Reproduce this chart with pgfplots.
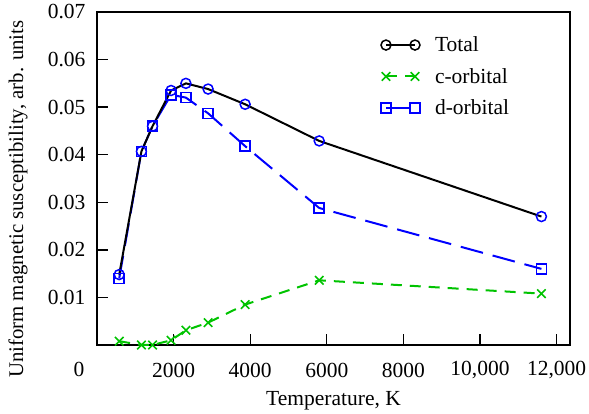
\documentclass[border=0pt]{standalone}
\usepackage{pgfplots}
\pgfplotsset{compat=1.18}
\usepackage{fontspec}
\setmainfont{Liberation Serif}
\definecolor{cgreen}{RGB}{0,195,0}
\begin{document}
\begin{tikzpicture}
\begin{axis}[
  name=ax,
  scale only axis,
  width=473pt, height=333pt,
  xmin=0, xmax=12350, ymin=0, ymax=0.07,
  font=\fontsize{21.5}{25}\selectfont,
  scaled ticks=false,
  /pgf/number format/assume math mode=true,
  xtick={2000,4000,6000,8000,10000,12000},
  xticklabels={2000,4000,6000,8000,{10,000},{12,000}},
  ytick={0.01,0.02,0.03,0.04,0.05,0.06,0.07},
  yticklabels={0.01,0.02,0.03,0.04,0.05,0.06,0.07},
  tick align=inside,
  xtick pos=bottom, ytick pos=left,
  major tick length=11pt,
  axis line style={line width=1.3pt},
  every tick/.style={black, line width=1.3pt},
  xticklabel style={anchor=center, yshift=-25pt},
  yticklabel style={anchor=east, xshift=-8pt},
  xlabel={Temperature, K},
  ylabel={Uniform magnetic susceptibility, arb. units},
  every axis x label/.style={at={([yshift=-56pt]axis description cs:0.5,0)}, anchor=center},
  every axis y label/.style={at={([xshift=-79pt]axis description cs:0,0.438)}, anchor=center, rotate=90, font=\fontsize{20.8}{25}\selectfont},
  legend style={draw=none, fill=none, at={(0.6,0.932)}, anchor=north west,
    font=\fontsize{21.5}{25}\selectfont, row sep=11pt, inner sep=0pt},
  legend cell align=left,
  legend image code/.code={
    \draw plot coordinates {(0pt,0pt) (29pt,0pt)};},
  clip=false,
]
\addlegendimage{black, line width=2pt, mark=o, mark size=5pt, mark options={solid, fill=white, line width=1.5pt}}
\addlegendentry{\hspace{13pt}Total}
\addlegendimage{cgreen, line width=2pt, dash pattern=on 11pt off 8pt, mark=x, mark size=6pt, mark options={solid, line width=1.6pt}}
\addlegendentry{\hspace{13pt}c-orbital}
\addlegendimage{blue, line width=2pt, dash pattern=on 23pt off 10pt, mark=square, mark size=5pt, mark options={solid, fill=white, line width=1.5pt}}
\addlegendentry{\hspace{13pt}d-orbital}

\addplot[forget plot, cgreen, line width=2pt, dash pattern=on 11pt off 8pt, mark=x, mark size=6pt, mark options={solid, line width=1.6pt}]
coordinates {(580,0.0008) (1160,0.0) (1450,0.0) (1934,0.001) (2321,0.0031) (2901,0.0047) (3868,0.0085) (5802,0.0136) (11604,0.0108)};
\addplot[forget plot, blue, line width=2pt, dash pattern=on 23pt off 10pt, mark=square, mark size=5pt, mark options={solid, fill=white, line width=1.5pt}]
coordinates {(580,0.014) (1160,0.0407) (1450,0.046) (1934,0.0526) (2321,0.0520) (2901,0.0487) (3868,0.0418) (5802,0.0288) (11604,0.0160)};
\addplot[forget plot, black, line width=2pt, mark=o, mark size=5pt, mark options={blue, fill=white, line width=1.5pt}]
coordinates {(580,0.0148) (1160,0.0407) (1450,0.046) (1934,0.0535) (2321,0.0550) (2901,0.0538) (3868,0.0506) (5802,0.0429) (11604,0.0270)};
\node[anchor=center, inner sep=0pt] at ([xshift=-18pt,yshift=-24pt]rel axis cs:0,0) {0};
\end{axis}
\pgfresetboundingbox
\path[use as bounding box] ([xshift=-97pt,yshift=-69pt]ax.south west) rectangle ([xshift=19pt,yshift=12pt]ax.north east);
\end{tikzpicture}
\end{document}
